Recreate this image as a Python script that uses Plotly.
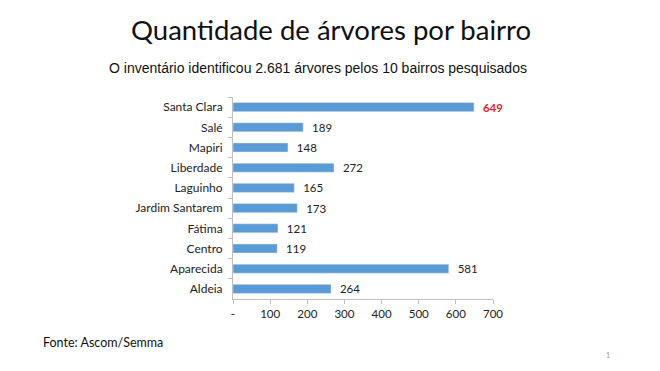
import plotly.graph_objects as go

bairros = ["Santa Clara", "Salé", "Mapiri", "Liberdade", "Laguinho",
           "Jardim Santarem", "Fátima", "Centro", "Aparecida", "Aldeia"]
arvores = [649, 189, 148, 272, 165, 173, 121, 119, 581, 264]
tick_vals = [0, 100, 200, 300, 400, 500, 600, 700]
tick_text = ["-", "100", "200", "300", "400", "500", "600", "700"]

max_v = max(arvores)
PAD = "\u00a0\u00a0"
labels = [PAD + (f"<b>{v}</b>" if v == max_v else str(v)) for v in arvores]
label_colors = ["#E8262A" if v == max_v else "#222222" for v in arvores]

OFF = 8  # default page body margin
W, H = 660 - OFF, 371 - OFF
L, T = 233 - OFF, 97 - OFF
pw, ph = 260, 202
R, B = W - L - pw, H - T - ph

def px(x):
    return (x - OFF - L) / pw

def py(y):
    return (T + ph - (y - OFF)) / ph

fig = go.Figure(go.Bar(
    y=bairros, x=arvores, orientation="h",
    marker=dict(color="#5B9BD5"),
    text=labels, textposition="outside", cliponaxis=False, constraintext="none",
    textfont=dict(family="Lato, Carlito, sans-serif", size=11.5, color=label_colors),
    width=0.45,
))

fig.update_layout(
    width=W, height=H, margin=dict(l=L, r=R, t=T, b=B, autoexpand=False),
    plot_bgcolor="white", paper_bgcolor="white",
    showlegend=False,
    font=dict(family="Lato, Carlito, sans-serif", size=11.5, color="#222222"),
)
fig.update_xaxes(range=[0, 700], tickvals=tick_vals, ticktext=tick_text,
                 showgrid=False, zeroline=False, showline=True, linecolor="#BFBFBF",
                 ticks="outside", ticklen=4, tickcolor="#BFBFBF", ticklabelstandoff=0,
                 tickfont=dict(size=11.5))
fig.update_yaxes(autorange="reversed", showgrid=False, showline=True, linecolor="#BFBFBF",
                 ticks="outside", ticklen=4, tickcolor="#BFBFBF", tickson="boundaries",
                 ticklabelstandoff=7, tickfont=dict(size=12))

fig.add_annotation(text="Quantidade de árvores por bairro", xref="paper", yref="paper",
                   x=px(331), y=py(30), showarrow=False, xanchor="center", yanchor="middle",
                   font=dict(family="Lato, sans-serif", size=27.5, color="#111111"))
fig.add_annotation(text="O inventário identificou 2.681 árvores pelos 10 bairros pesquisados",
                   xref="paper", yref="paper", x=px(318), y=py(68), showarrow=False,
                   xanchor="center", yanchor="middle",
                   font=dict(family="Liberation Sans, Arial, sans-serif", size=14, color="#111111"))
fig.add_annotation(text="Fonte: Ascom/Semma", xref="paper", yref="paper",
                   x=px(41), y=py(342), showarrow=False, xanchor="left", yanchor="middle",
                   font=dict(family="Lato, sans-serif", size=12.5, color="#111111"))
fig.add_annotation(text="1", xref="paper", yref="paper",
                   x=px(608), y=py(355), showarrow=False, xanchor="center", yanchor="middle",
                   font=dict(family="Lato, sans-serif", size=7, color="#999999"))

fig.write_html("out.html")
